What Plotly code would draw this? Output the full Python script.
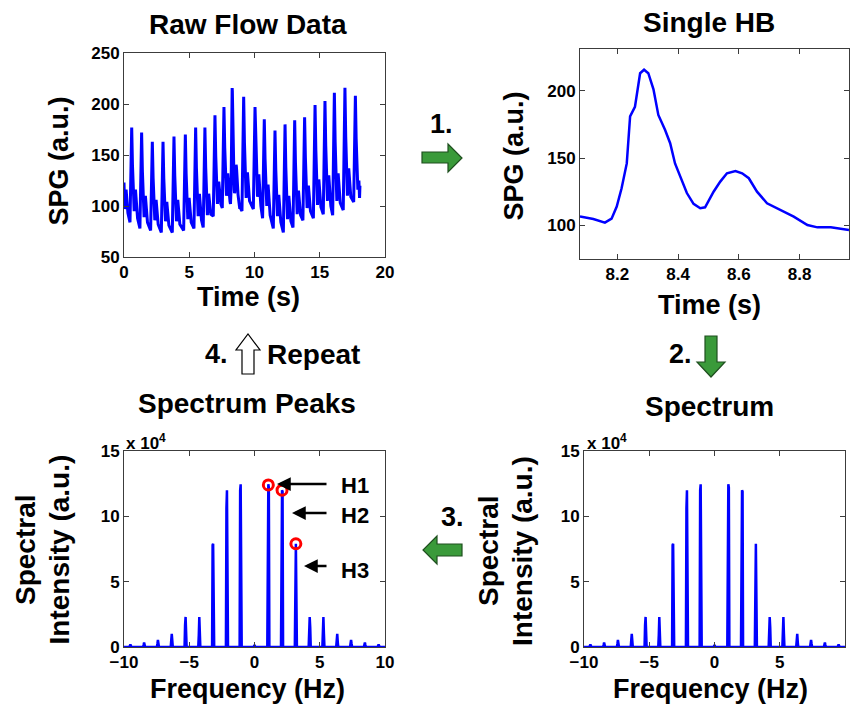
import plotly.graph_objects as go

W, H = 854, 706

# ---------------- data ----------------
# Single heartbeat (time s, SPG a.u.)
hb_t = [8.077, 8.121, 8.159, 8.181, 8.198, 8.214, 8.231, 8.242, 8.258, 8.275, 8.288,
        8.302, 8.319, 8.335, 8.357, 8.374, 8.390, 8.407, 8.429, 8.451, 8.473, 8.489,
        8.517, 8.539, 8.561, 8.589, 8.611, 8.633, 8.660, 8.693, 8.737, 8.781, 8.826,
        8.859, 8.903, 8.936, 8.963]
hb_v = [106.5, 104.7, 102.0, 105.0, 114.0, 127.5, 146.0, 181.0, 188.0, 213.0, 215.6,
        213.0, 201.0, 182.0, 171.0, 161.0, 146.0, 136.0, 124.0, 116.0, 112.7, 113.4,
        125.0, 132.5, 138.7, 140.4, 138.7, 135.0, 125.0, 116.4, 111.4, 106.5, 100.2,
        98.5, 98.5, 97.3, 96.5]

# Raw flow data before the single beat
raw_t_a = [0.00, 0.05, 0.16, 0.30,
           0.46, 0.59, 0.65, 0.78, 0.88, 1.04,
           1.22, 1.35, 1.41, 1.54, 1.64, 1.80,
           2.04, 2.17, 2.23, 2.36, 2.46, 2.62,
           2.86, 2.99, 3.05, 3.18, 3.28, 3.44,
           3.70, 3.83, 3.89, 4.02, 4.12, 4.28,
           4.57, 4.70, 4.76, 4.89, 4.99, 5.15,
           5.36, 5.49, 5.55, 5.68, 5.78, 5.94,
           6.07, 6.20, 6.26, 6.39, 6.49, 6.65,
           6.84, 6.97, 7.03, 7.16, 7.26, 7.42,
           7.53, 7.66, 7.72, 7.85, 7.95]
raw_v_a = [123, 97, 116, 93,
           84, 177, 140, 95, 116, 88,
           78, 172, 134, 89, 110, 84,
           76, 163, 128, 86, 106, 82,
           74, 163, 127, 85, 104, 81,
           74, 168, 130, 85, 106, 82,
           76, 170, 132, 87, 108, 84,
           78, 177, 137, 90, 112, 86,
           79, 177, 138, 91, 112, 92,
           90, 189, 149, 102, 124, 102,
           98, 197, 157, 110, 132]
# Raw flow data after the single beat
raw_t_b = [9.04, 9.17, 9.23, 9.36, 9.46, 9.62,
           9.91, 10.04, 10.10, 10.23, 10.33, 10.49,
           10.62, 10.75, 10.81, 10.94, 11.04, 11.20,
           11.44, 11.57, 11.63, 11.76, 11.86, 12.02,
           12.21, 12.34, 12.40, 12.53, 12.63, 12.79,
           12.95, 13.08, 13.14, 13.27, 13.37, 13.53,
           13.71, 13.84, 13.90, 14.03, 14.13, 14.29,
           14.51, 14.64, 14.70, 14.83, 14.93, 15.09,
           15.27, 15.40, 15.46, 15.59, 15.69, 15.85,
           15.99, 16.12, 16.18, 16.31, 16.41, 16.57,
           16.80, 16.93, 16.99, 17.12, 17.22, 17.38,
           17.60, 17.73, 17.79, 17.92, 18.00, 18.05, 18.08]
raw_v_b = [95, 207, 162, 108, 133, 105,
           97, 197, 157, 109, 131, 100,
           88, 185, 146, 100, 121, 91,
           78, 174, 136, 90, 111, 84,
           74, 180, 138, 87, 110, 85,
           79, 184, 142, 92, 115, 91,
           86, 187, 147, 98, 120, 95,
           88, 199, 155, 101, 126, 99,
           92, 203, 159, 105, 130, 100,
           91, 211, 163, 105, 132, 103,
           96, 216, 168, 110, 137, 109,
           104, 208, 166, 116, 125, 108, 120]

# Spectrum samples (frequency Hz, intensity in units of 1e4)
spec_f = [-10.0,
          -9.59, -9.55, -9.51, -9.43,
          -8.54, -8.50, -8.46, -8.38,
          -7.48, -7.44, -7.40, -7.32,
          -6.42, -6.38, -6.34, -6.26,
          -5.36, -5.32, -5.28, -5.20,
          -4.31, -4.27, -4.23, -4.15,
          -3.25, -3.21, -3.17, -3.09,
          -2.19, -2.15, -2.11, -2.03,
          -1.14, -1.10, -1.06, -0.98,
          -0.06, 0.00, 0.06,
          0.98, 1.06, 1.10, 1.14,
          2.03, 2.11, 2.15, 2.19,
          3.09, 3.17, 3.21, 3.25,
          4.15, 4.23, 4.27, 4.31,
          5.20, 5.28, 5.32, 5.36,
          6.26, 6.34, 6.38, 6.42,
          7.32, 7.40, 7.44, 7.48,
          8.38, 8.46, 8.50, 8.54,
          9.43, 9.51, 9.55, 9.59,
          10.0]
spec_s = [0.0,
          0.0, 0.10, 0.20, 0.0,
          0.0, 0.15, 0.35, 0.0,
          0.0, 0.25, 0.55, 0.0,
          0.0, 0.50, 1.00, 0.0,
          0.0, 1.70, 2.30, 0.0,
          0.0, 0.90, 2.30, 0.0,
          0.0, 7.80, 7.90, 0.0,
          0.0, 10.6, 12.0, 0.0,
          0.0, 12.0, 12.45, 0.0,
          0.0, 0.15, 0.0,
          0.0, 12.45, 12.2, 0.0,
          0.0, 12.0, 11.9, 0.0,
          0.0, 7.90, 5.50, 0.0,
          0.0, 2.30, 1.50, 0.0,
          0.0, 2.30, 1.00, 0.0,
          0.0, 1.00, 0.40, 0.0,
          0.0, 0.55, 0.25, 0.0,
          0.0, 0.35, 0.15, 0.0,
          0.0, 0.20, 0.10, 0.0,
          0.0]

# Detected harmonic peaks
peak_f = [1.06, 2.11, 3.17]
peak_v = [12.4, 12.0, 7.9]
peak_labels = ["H1", "H2", "H3"]

# ---------------- figure ----------------
BLUE = "#0000FF"
FONT = "Liberation Sans, Arial, sans-serif"
AX = "#3c3c3c"

fig = go.Figure()
fig.add_trace(go.Scatter(x=raw_t_a + hb_t + raw_t_b, y=raw_v_a + hb_v + raw_v_b,
                         mode="lines", line=dict(color=BLUE, width=3),
                         xaxis="x", yaxis="y", showlegend=False))
fig.add_trace(go.Scatter(x=hb_t, y=hb_v, mode="lines", line=dict(color=BLUE, width=2.5),
                         xaxis="x2", yaxis="y2", showlegend=False))
fig.add_trace(go.Scatter(x=spec_f, y=spec_s, mode="lines", line=dict(color=BLUE, width=2.5),
                         xaxis="x3", yaxis="y3", showlegend=False))
fig.add_trace(go.Scatter(x=peak_f, y=peak_v, mode="markers",
                         marker=dict(symbol="circle-open", size=10, color="red",
                                     line=dict(color="red", width=3)),
                         xaxis="x3", yaxis="y3", showlegend=False))
fig.add_trace(go.Scatter(x=spec_f, y=spec_s, mode="lines", line=dict(color=BLUE, width=2.5),
                         xaxis="x4", yaxis="y4", showlegend=False))


def px_dom(a, b, horiz=True):
    if horiz:
        return [a / W, b / W]
    return [1 - b / H, 1 - a / H]


tickfont = dict(family=FONT, size=17, color="black", weight="bold")


def axis_style(**kw):
    d = dict(showgrid=False, zeroline=False, showline=True, linecolor=AX, linewidth=1,
             mirror="ticks", ticks="inside", ticklen=5, tickcolor=AX, tickwidth=1,
             tickfont=tickfont, automargin=False)
    d.update(kw)
    return d


fig.update_layout(
    width=W, height=H, margin=dict(l=0, r=0, t=0, b=0, autoexpand=False),
    paper_bgcolor="white", plot_bgcolor="white", showlegend=False,
    xaxis=axis_style(domain=px_dom(124, 385), range=[0, 20], tickvals=[0, 5, 10, 15, 20], anchor="y"),
    yaxis=axis_style(domain=px_dom(53, 257, False), range=[50, 250],
                     tickvals=[50, 100, 150, 200, 250], anchor="x"),
    xaxis2=axis_style(domain=px_dom(580, 849), range=[8.077, 8.963],
                      tickvals=[8.2, 8.4, 8.6, 8.8], ticktext=["8.2", "8.4", "8.6", "8.8"], anchor="y2"),
    yaxis2=axis_style(domain=px_dom(49, 259, False), range=[75, 231],
                      tickvals=[100, 150, 200], anchor="x2"),
    xaxis3=axis_style(domain=px_dom(124, 385), range=[-10, 10], tickvals=[-10, -5, 0, 5, 10], anchor="y3"),
    yaxis3=axis_style(domain=px_dom(451, 647, False), range=[0, 15], tickvals=[0, 5, 10, 15], anchor="x3"),
    xaxis4=axis_style(domain=px_dom(584, 845), range=[-10, 10], tickvals=[-10, -5, 0, 5, 10], anchor="y4"),
    yaxis4=axis_style(domain=px_dom(451, 647, False), range=[0, 15], tickvals=[0, 5, 10, 15], anchor="x4"),
)


def txt(s, x, y, size=26, angle=0, xanchor="center"):
    fig.add_annotation(text=s, x=x / W, y=1 - y / H, xref="paper", yref="paper",
                       showarrow=False, textangle=angle, xanchor=xanchor, yanchor="middle",
                       font=dict(family=FONT, size=size, color="black", weight="bold"))


# titles
txt("Raw Flow Data", 248, 24, 28)
txt("Single HB", 709, 23, 28)
txt("Spectrum Peaks", 247, 403, 28)
txt("Spectrum", 709, 406, 28)
# axis titles
txt("Time (s)", 248, 297, 27)
txt("Time (s)", 709, 305, 27)
txt("Frequency (Hz)", 247, 689, 27)
txt("Frequency (Hz)", 710, 689, 27)
txt("SPG (a.u.)", 58.5, 161, 27, -90)
txt("SPG (a.u.)", 513.5, 156, 27, -90)
txt("Spectral", 25, 550, 28, -90)
txt("Intensity (a.u.)", 58.5, 550, 28, -90)
txt("Spectral", 488, 551, 28, -90)
txt("Intensity (a.u.)", 522, 551, 28, -90)
# exponent labels
txt("x 10<sup>4</sup>", 124, 442, 17, xanchor="left")
txt("x 10<sup>4</sup>", 585, 442, 17, xanchor="left")
# step labels
txt("1.", 441, 124, 27)
txt("2.", 680, 354, 27)
txt("3.", 452, 517, 27)
txt("4.", 216, 354, 27)
txt("Repeat", 313, 354, 28)

# harmonic labels with arrows
h_tips = [(277, 484), (292, 513), (304, 566)]
h_text_y = [485, 515, 570]
for lab, (tx, ty), yy in zip(peak_labels, h_tips, h_text_y):
    txt(lab, 355, yy, 22)
    fig.add_annotation(text="", x=tx / W, y=1 - ty / H, xref="paper", yref="paper",
                       ax=328 - tx, ay=0, axref="pixel", ayref="pixel",
                       showarrow=True, arrowhead=2, arrowsize=1.1, arrowwidth=2.5,
                       arrowcolor="black")


# block arrows
def path(pts):
    s = "M " + " L ".join(f"{x / W:.5f},{1 - y / H:.5f}" for x, y in pts) + " Z"
    return s


GREEN = "#3a9a3a"
EDGE = "#1f4f1f"
arrows = [
    ([(422, 152), (448, 152), (448, 144), (462, 158), (448, 172), (448, 163), (422, 163)], GREEN, EDGE),
    ([(705, 336), (717, 336), (717, 362), (725, 362), (711, 377), (697, 362), (705, 362)], GREEN, EDGE),
    ([(462, 544), (437, 544), (437, 536), (423, 550), (437, 564), (437, 556), (462, 556)], GREEN, EDGE),
    ([(242, 374), (242, 350), (236, 350), (248, 334), (260, 350), (254, 350), (254, 374)], "white", "black"),
]
for pts, fc, lc in arrows:
    fig.add_shape(type="path", path=path(pts), xref="paper", yref="paper",
                  fillcolor=fc, line=dict(color=lc, width=1.2), layer="above")

fig.write_html("out.html", config={"displayModeBar": False},
               post_script="document.body.style.margin='0';document.body.style.overflow='hidden';")
